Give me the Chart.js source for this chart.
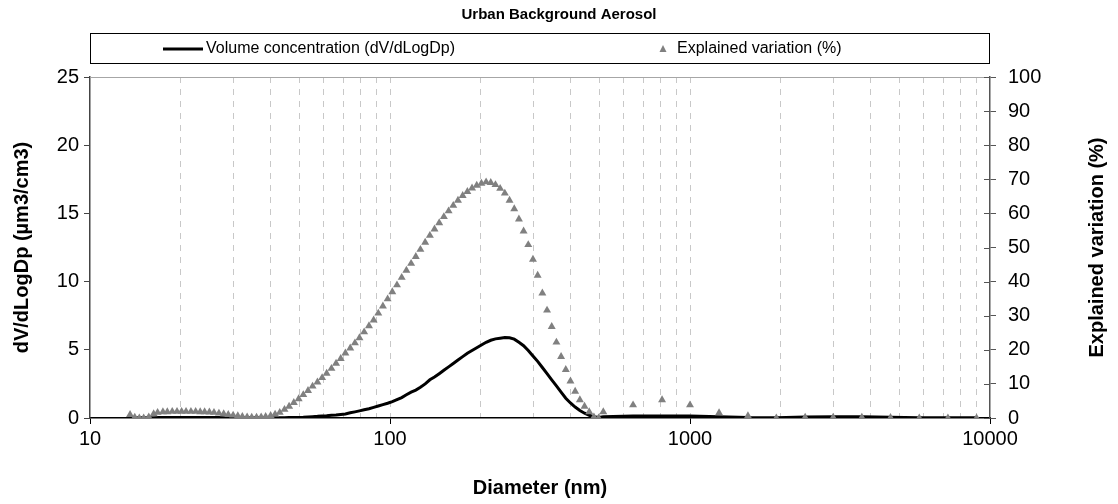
<!DOCTYPE html>
<html>
<head>
<meta charset="utf-8">
<script src="https://cdn.jsdelivr.net/npm/chart.js@4.4.1/dist/chart.umd.min.js"></script>
<style>
  html, body { margin: 0; padding: 0; background: #fff; }
  #wrap { width: 1118px; height: 504px; position: relative; }
</style>
</head>
<body>
<div id="wrap"><canvas id="c"></canvas></div>
<script>
// ---- Data ----
const chartTitle = 'Urban Background Aerosol';
const seriesLabels = ['Volume concentration (dV/dLogDp)', 'Explained variation (%)'];

// particle diameter (nm)
const diameters = [
  13.6, 14.1, 14.6, 15.1, 15.7, 16.3, 16.8, 17.5, 18.1, 18.8,
  19.5, 20.2, 20.9, 21.7, 22.5, 23.3, 24.1, 25.0, 25.9, 26.9,
  27.9, 28.9, 30.0, 31.1, 32.2, 33.4, 34.6, 35.9, 37.2, 38.5,
  40.0, 41.4, 42.9, 44.5, 46.1, 47.8, 49.6, 51.4, 53.3, 55.2,
  57.3, 59.4, 61.5, 63.8, 66.1, 68.5, 71.0, 73.7, 76.4, 79.1,
  82.0, 85.1, 88.2, 91.4, 94.7, 98.2, 101.8, 105.5, 109.4, 113.4,
  117.6, 121.9, 126.3, 131.0, 135.8, 140.7, 145.9, 151.2, 156.8, 162.5,
  168.5, 174.7, 181.1, 187.7, 194.6, 201.7, 209.1, 216.7, 224.7, 232.9,
  241.4, 250.3, 259.5, 269.0, 278.8, 289.0, 299.6, 310.6, 322.0, 333.8,
  346.0, 358.7, 371.8, 385.4, 399.5, 414.2, 429.4, 445.1, 461.4, 478.3,
  495.8, 514.0,
  646, 807, 1000, 1250, 1560, 1940, 2420, 3000, 3740, 4660, 5810, 7240, 9020
];

// dV/dLogDp (µm3/cm3)
const volumeConc = [
  0.02, 0.02, 0.02, 0.02, 0.02, 0.02, 0.03, 0.03, 0.03, 0.03,
  0.03, 0.03, 0.03, 0.03, 0.03, 0.03, 0.03, 0.03, 0.03, 0.03,
  0.02, 0.02, 0.02, 0.01, 0.01, 0.01, 0.01, 0.01, 0.01, 0.01,
  0.01, 0.01, 0.02, 0.02, 0.03, 0.03, 0.04, 0.05, 0.08, 0.10,
  0.12, 0.15, 0.17, 0.20, 0.22, 0.26, 0.30, 0.38, 0.45, 0.52,
  0.60, 0.68, 0.78, 0.88, 0.98, 1.08, 1.20, 1.35, 1.50, 1.70,
  1.90, 2.05, 2.25, 2.50, 2.80, 3.00, 3.25, 3.50, 3.75, 4.00,
  4.25, 4.50, 4.75, 4.95, 5.15, 5.35, 5.55, 5.70, 5.80, 5.85,
  5.90, 5.88, 5.78, 5.55, 5.30, 4.95, 4.55, 4.15, 3.70, 3.25,
  2.80, 2.35, 1.90, 1.45, 1.10, 0.80, 0.55, 0.35, 0.20, 0.10,
  0.03, 0.10,
  0.15, 0.15, 0.15, 0.10, 0.03, 0.02, 0.08, 0.10, 0.10, 0.05, 0.02, 0.01, 0.01
];

// explained variation (%)
const explainedVar = [
  1.0, 0.2, 0.0, 0.0, 0.3, 1.2, 1.6, 1.8, 1.8, 1.9,
  1.9, 1.9, 1.9, 1.9, 1.9, 1.8, 1.8, 1.7, 1.6, 1.4,
  1.2, 1.0, 0.8, 0.6, 0.4, 0.3, 0.2, 0.2, 0.3, 0.4,
  0.7, 1.1, 1.6, 2.5, 3.4, 4.5, 5.6, 6.8, 8.0, 9.3,
  10.5, 11.8, 13.1, 14.5, 16.0, 17.4, 19.0, 20.5, 22.0, 23.5,
  25.2, 27.0, 28.7, 30.7, 32.8, 34.9, 37.0, 39.0, 41.2, 43.3,
  45.3, 47.3, 49.4, 51.5, 53.5, 55.4, 57.2, 59.0, 60.7, 62.3,
  63.8, 65.2, 66.4, 67.4, 68.2, 68.8, 69.2, 69.0, 68.4, 67.3,
  65.9, 63.8, 61.3, 58.3, 54.8, 50.8, 46.5, 41.8, 36.6, 31.6,
  26.8, 22.2, 18.0, 14.2, 10.8, 7.8, 5.3, 3.4, 1.8, 0.3,
  0.0, 1.8,
  3.8, 5.3, 3.8, 1.5, 0.6, 0.0, 0.2, 0.2, 0.2, 0.1, 0.0, 0.0, 0.0
];

// x axis: grid positions and labelled ticks
const xGridValues = [10, 20, 30, 40, 50, 60, 70, 80, 90,
  100, 200, 300, 400, 500, 600, 700, 800, 900,
  1000, 2000, 3000, 4000, 5000, 6000, 7000, 8000, 9000, 10000];
const xTickLabels = [10, 100, 1000, 10000];
const yLeftTicks = [0, 5, 10, 15, 20, 25];
const yRightTicks = [0, 10, 20, 30, 40, 50, 60, 70, 80, 90, 100];

const axisTitles = { x: 'Diameter (nm)', y: 'dV/dLogDp (µm3/cm3)', y1: 'Explained variation (%)' };

// ---- Chart ----
const FONT = "'Liberation Sans', Arial, sans-serif";
const TRI_COLOR = '#808080';

const extras = {
  id: 'extras',
  afterDraw(chart) {
    const ctx = chart.ctx;
    const a = chart.chartArea;
    const y1 = chart.scales.y1;
    ctx.save();
    // top border of plot area
    ctx.strokeStyle = '#a6a6a6';
    ctx.lineWidth = 1;
    ctx.beginPath();
    ctx.moveTo(a.left, Math.round(a.top) + 0.5);
    ctx.lineTo(a.right, Math.round(a.top) + 0.5);
    ctx.stroke();
    // inner half of right-axis cross ticks
    ctx.strokeStyle = '#555';
    ctx.lineWidth = 1;
    y1.ticks.forEach(t => {
      const py = Math.round(y1.getPixelForValue(t.value)) + 0.5;
      ctx.beginPath();
      ctx.moveTo(a.right - 6, py);
      ctx.lineTo(a.right, py);
      ctx.stroke();
    });
    // right axis title, reading bottom to top
    ctx.fillStyle = '#000';
    ctx.font = "bold 20px " + FONT;
    ctx.textAlign = 'center';
    ctx.textBaseline = 'middle';
    ctx.translate(1097, (a.top + a.bottom) / 2);
    ctx.rotate(-Math.PI / 2);
    ctx.fillText(axisTitles.y1, 0, 0);
    ctx.restore();

    // legend box
    ctx.save();
    const bx = a.left, by = 33, bw = a.right - a.left, bh = 30;
    ctx.strokeStyle = '#000';
    ctx.lineWidth = 1;
    ctx.strokeRect(Math.round(bx) + 0.5, by + 0.5, Math.round(bw) - 1, bh);
    const cy = by + bh / 2 + 1;
    ctx.strokeStyle = '#000';
    ctx.lineWidth = 3;
    ctx.beginPath();
    ctx.moveTo(163, cy);
    ctx.lineTo(203, cy);
    ctx.stroke();
    ctx.fillStyle = '#000';
    ctx.font = "16px " + FONT;
    ctx.textAlign = 'left';
    ctx.textBaseline = 'middle';
    ctx.fillText(chart.data.datasets[0].label, 206, cy);
    // triangle marker
    ctx.fillStyle = TRI_COLOR;
    ctx.beginPath();
    ctx.moveTo(663, cy - 4);
    ctx.lineTo(666.5, cy + 3);
    ctx.lineTo(659.5, cy + 3);
    ctx.closePath();
    ctx.fill();
    ctx.fillStyle = '#000';
    ctx.fillText(chart.data.datasets[1].label, 677, cy);
    ctx.restore();
  }
};

new Chart(document.getElementById('c'), {
  type: 'line',
  data: {
    datasets: [
      {
        label: seriesLabels[0],
        data: diameters.map((d, i) => ({ x: d, y: volumeConc[i] })),
        yAxisID: 'y',
        borderColor: '#000',
        backgroundColor: '#000',
        borderWidth: 3,
        pointRadius: 0,
        tension: 0,
        order: 2
      },
      {
        label: seriesLabels[1],
        data: diameters.map((d, i) => ({ x: d, y: explainedVar[i] })),
        yAxisID: 'y1',
        showLine: false,
        pointStyle: 'triangle',
        pointRadius: 4.6,
        pointBackgroundColor: TRI_COLOR,
        pointBorderColor: TRI_COLOR,
        pointBorderWidth: 0,
        order: 1
      }
    ]
  },
  options: {
    responsive: true,
    maintainAspectRatio: false,
    animation: false,
    events: [],
    layout: { padding: 0 },
    plugins: {
      legend: { display: false },
      tooltip: { enabled: false },
      title: {
        display: true,
        text: chartTitle,
        color: '#000',
        font: { family: FONT, size: 15, weight: 'bold' },
        padding: { top: 6, bottom: 53 }
      }
    },
    scales: {
      x: {
        type: 'logarithmic',
        position: 'bottom',
        min: 10,
        max: 10000,
        afterBuildTicks: s => { s.ticks = xGridValues.map(v => ({ value: v, major: xTickLabels.includes(v) })); },
        afterFit: s => { s.height = 86; },
        ticks: {
          autoSkip: false,
          maxRotation: 0,
          color: '#000',
          padding: 3,
          font: { family: FONT, size: 20 },
          callback: v => xTickLabels.includes(v) ? String(v) : ''
        },
        grid: {
          drawOnChartArea: true,
          color: c => (c.tick && (c.tick.value === 10 || c.tick.value === 10000)) ? 'rgba(0,0,0,0)' : '#c8c8c8',
          lineWidth: 1,
          tickLength: 6,
          tickColor: c => (c.tick && xTickLabels.includes(c.tick.value)) ? '#000' : 'rgba(0,0,0,0)'
        },
        border: { display: true, color: '#000', width: 1.5, dash: [6, 6] },
        title: {
          display: true,
          text: axisTitles.x,
          color: '#000',
          font: { family: FONT, size: 20, weight: 'bold' },
          padding: { top: 0, bottom: 4 }
        }
      },
      y: {
        position: 'left',
        min: 0,
        max: 25,
        afterBuildTicks: s => { s.ticks = yLeftTicks.map(v => ({ value: v })); },
        afterFit: s => { s.width = 90; },
        ticks: {
          color: '#000',
          padding: 5,
          font: { family: FONT, size: 20 }
        },
        grid: { drawOnChartArea: false, tickLength: 6, tickColor: '#444' },
        border: { display: true, color: '#444', width: 1.5 },
        title: {
          display: true,
          text: axisTitles.y,
          color: '#000',
          font: { family: FONT, size: 20, weight: 'bold' },
          padding: { top: 10, bottom: 0 }
        }
      },
      y1: {
        position: 'right',
        min: 0,
        max: 100,
        afterBuildTicks: s => { s.ticks = yRightTicks.map(v => ({ value: v })); },
        afterFit: s => { s.width = 128; },
        ticks: {
          color: '#000',
          padding: 12,
          font: { family: FONT, size: 20 }
        },
        grid: { drawOnChartArea: false, tickLength: 6, tickColor: '#555' },
        border: { display: true, color: '#555', width: 1.5 },
        title: { display: false }
      }
    }
  },
  plugins: [extras]
});
</script>
</body>
</html>
